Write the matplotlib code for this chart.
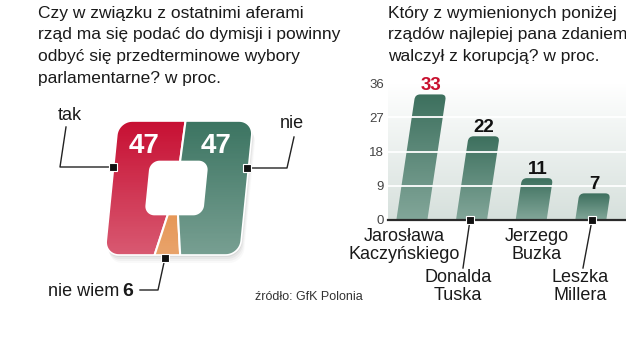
import numpy as np
import matplotlib
matplotlib.use('Agg')
import matplotlib.pyplot as plt
from matplotlib.path import Path
from matplotlib.patches import PathPatch, FancyBboxPatch
from matplotlib.transforms import Affine2D
from matplotlib.colors import to_rgb

plt.rcParams['font.family'] = ['Liberation Sans', 'DejaVu Sans']

# lewy wykres: dymisja rzadu
answers = ['tak', 'nie wiem', 'nie']
shares = [47, 6, 47]
share_colors = ['#c70f32', '#df7a28', '#3b7461']

# prawy wykres: walka z korupcja
governments = ['Jarosława\nKaczyńskiego', 'Donalda\nTuska', 'Jerzego\nBuzka', 'Leszka\nMillera']
scores = [33, 22, 11, 7]
score_colors = ['#c8102e', '#111111', '#111111', '#111111']
yticks = [0, 9, 18, 27, 36]

title_left = ['Czy w związku z ostatnimi aferami',
              'rząd ma się podać do dymisji i powinny',
              'odbyć się przedterminowe wybory',
              'parlamentarne? w proc.']
title_right = ['Który z wymienionych poniżej',
               'rządów najlepiej pana zdaniem',
               'walczył z korupcją? w proc.']
source = 'źródło: GfK Polonia'

W, H = 626, 357


def grad(top, bottom, n=120):
    t = np.linspace(0, 1, n)[:, None]
    c = np.array(to_rgb(top)) * (1 - t) + np.array(to_rgb(bottom)) * t
    return c[:, None, :]


def rrect(x0, y0, x1, y1, r, n=14):
    pts = []
    for ccx, ccy, a0 in [(x1 - r, y1 - r, 0), (x0 + r, y1 - r, 90),
                         (x0 + r, y0 + r, 180), (x1 - r, y0 + r, 270)]:
        t = np.radians(np.linspace(a0, a0 + 90, n))
        pts += list(zip(ccx + r * np.cos(t), ccy + r * np.sin(t)))
    return np.array(pts)


fig = plt.figure(figsize=(W / 100, H / 100), dpi=100)

# ---- bar chart ----
ax_b = fig.add_axes([388 / W, (H - 220) / H, 238 / W, 137 / H])
xlim = (-0.40, 3.59)
ax_b.set_xlim(*xlim)
ax_b.set_ylim(0, 36)
ax_b.patch.set_facecolor('none')
for s in ax_b.spines.values():
    s.set_visible(False)

ax_b.imshow(grad('#ffffff', '#d6e0dc'), extent=(*xlim, 0, 36), aspect='auto',
            zorder=0, interpolation='bilinear')

kb = 0.15
y0 = ax_b.transData.transform((0, 0))[1]
T_bar = ax_b.transData + Affine2D().translate(0, -y0).skew(np.arctan(kb), 0).translate(0, y0)
px_x = ax_b.bbox.width / (xlim[1] - xlim[0])
px_y = ax_b.bbox.height / 36
bw = 0.52
for i, v in enumerate(scores):
    bar = FancyBboxPatch((i - bw / 2, -4), bw, v + 4,
                         boxstyle=f'round,pad=0,rounding_size={5 / px_x}',
                         mutation_aspect=px_x / px_y, transform=T_bar,
                         facecolor='none', edgecolor='none', zorder=2)
    ax_b.add_patch(bar)
    im = ax_b.imshow(grad('#3d705e', '#82a699'), extent=(i - bw / 2 - 0.05, i + bw / 2 + 0.45, 0, v),
                     aspect='auto', zorder=2, interpolation='bilinear')
    im.set_clip_path(bar)
    ax_b.annotate(str(v), xy=(i, v), xycoords=T_bar, xytext=(0, 3), textcoords='offset points',
                  ha='center', va='baseline', fontsize=13.5, fontweight='bold',
                  color=score_colors[i], zorder=6)

ax_b.hlines(yticks[1:], *xlim, colors='white', lw=1.3, zorder=3)
ax_b.axhline(0, color='#2a2a2a', lw=1.6, zorder=4, clip_on=False)
ax_b.set_yticks(yticks)
ax_b.set_xticks([])
ax_b.tick_params(axis='y', length=0, pad=3, labelsize=9.5, labelcolor='#444444')
ax_b.set_xlim(*xlim)
ax_b.set_ylim(0, 36)

# ---- overlay in pixel coords, with the square "pie" ----
ax = fig.add_axes([0, 0, 1, 1])

cx, cy, k = 179, 188, 0.1
M = np.array([[1, k, cx], [0, -1, cy], [0, 0, 1]])
T = Affine2D(M) + ax.transData
outer = rrect(-67.5, -67, 67.5, 67, 14)
hole = rrect(-31, -26.5, 26, 26.5, 9)[::-1]
verts = np.vstack([outer, outer[:1], hole, hole[:1]])
codes = ([Path.MOVETO] + [Path.LINETO] * (len(outer) - 1) + [Path.CLOSEPOLY]
         + [Path.MOVETO] + [Path.LINETO] * (len(hole) - 1) + [Path.CLOSEPOLY])
ring = Path(verts, codes)

# soft shadow, hole kept white
for off, a in [(2, 0.05), (4, 0.04), (6, 0.03), (8, 0.025)]:
    ax.add_patch(PathPatch(Path(outer), transform=Affine2D(M).translate(off * 0.4, off) + ax.transData,
                           facecolor='black', edgecolor='none', alpha=a, zorder=1))
ax.add_patch(PathPatch(Path(hole), transform=T, facecolor='white', edgecolor='none', zorder=1.5))

wedges, _ = ax.pie(shares, colors=share_colors, startangle=88, counterclock=True,
                   radius=200, center=(-2.5, 0),
                   wedgeprops=dict(edgecolor='white', linewidth=1.5))
for wdg in wedges:
    wdg.set_transform(T)
    wdg.set_clip_on(True)
    wdg.set_clip_path(ring, T)
    wdg.set_zorder(2)

shade = np.ones((120, 1, 4))
shade[:, 0, 3] = np.linspace(0, 0.32, 120)
im = ax.imshow(shade, extent=(95, 262, 258, 118), aspect='auto', zorder=3, interpolation='bilinear')
im.set_clip_path(PathPatch(ring, transform=T))
ax.add_patch(PathPatch(ring, transform=T, facecolor='none', edgecolor='white', lw=1.2, zorder=4))

ax.text(144.5, 153, str(shares[0]), ha='center', va='baseline', fontsize=20,
        fontweight='bold', color='white', zorder=5)
ax.text(216, 153, str(shares[2]), ha='center', va='baseline', fontsize=20,
        fontweight='bold', color='white', zorder=5)


def leader(pts):
    xs, ys = zip(*pts)
    ax.plot(xs, ys, color='#222222', lw=1, zorder=6)
    ax.plot(xs[0], ys[0], 's', ms=6, color='#111111', mec='white', mew=0.8, zorder=7)


leader([(113, 167), (60, 167), (66, 127)])
leader([(247, 168), (287, 168), (294, 137)])
leader([(165, 258), (158, 290), (140, 290)])
leader([(470, 220), (463, 268)])
leader([(592, 220), (583, 268)])

txt = dict(color='#1a1a1a', va='baseline', zorder=8)
ax.text(70, 120, answers[0], ha='center', fontsize=13, **txt)
ax.text(292, 128, answers[2], ha='center', fontsize=13, **txt)
ax.text(119, 296, answers[1], ha='right', fontsize=13, **txt)
ax.text(122, 296, str(shares[1]), ha='left', fontsize=14, fontweight='bold', **txt)

for j, line in enumerate(title_left):
    ax.text(38, 18 + 21.5 * j, line, ha='left', fontsize=12.5, **txt)
for j, line in enumerate(title_right):
    ax.text(388, 18 + 21.5 * j, line, ha='left', fontsize=12.5, **txt)

label_pos = [(404, 241), (458, 282), (537, 241), (580, 282)]
for name, (lx, ly) in zip(governments, label_pos):
    for j, line in enumerate(name.split('\n')):
        ax.text(lx, ly + 18 * j, line, ha='center', fontsize=13, **txt)

ax.text(255, 300, source, ha='left', fontsize=9, color='#333333', va='baseline')

ax.set_xlim(0, W)
ax.set_ylim(H, 0)
ax.set_aspect('auto')
ax.axis('off')

fig.savefig('out.png', dpi=100)
